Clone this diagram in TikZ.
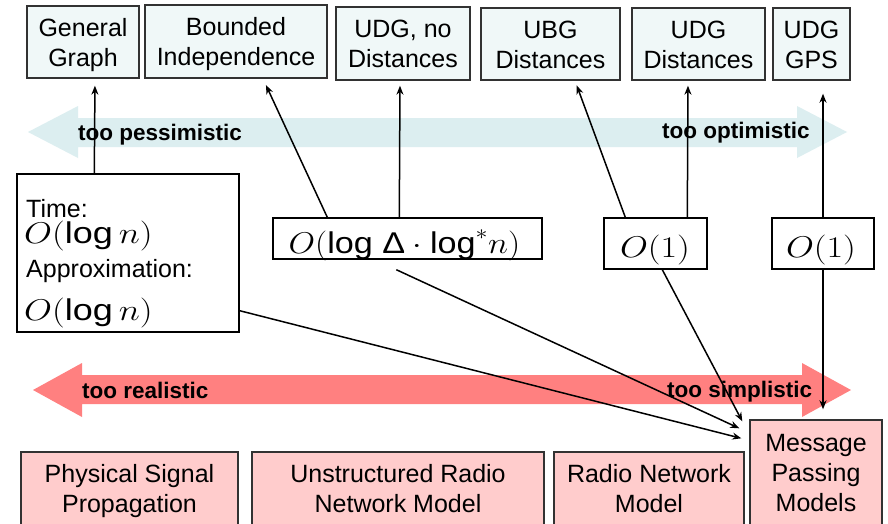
\RequirePackage{fix-cm}
\documentclass[tikz,border=0pt]{standalone}
\usepackage{fontspec}
\setmainfont{Liberation Sans}
\usetikzlibrary{calc,arrows.meta}
\definecolor{topfill}{RGB}{240,248,248}
\definecolor{botfill}{RGB}{255,204,204}
\definecolor{blueband}{RGB}{220,238,240}
\definecolor{redband}{RGB}{255,128,128}
\definecolor{edgecol}{RGB}{50,50,50}
\begin{document}
\begin{tikzpicture}[x=1pt,y=-1pt,
  topbox/.style={draw=edgecol,line width=1.4pt,fill=topfill,align=center,inner sep=0pt,text height=48pt,text depth=0pt,font=\fontsize{25}{30}\selectfont},
  botbox/.style={draw=edgecol,line width=1.4pt,fill=botfill,align=center,inner sep=0pt,text height=48pt,text depth=0pt,font=\fontsize{25}{30}\selectfont},
  midbox/.style={draw=black,line width=1.4pt,fill=white,inner sep=0pt},
  bandlabel/.style={font=\bfseries\fontsize{22.5}{27}\selectfont,anchor=base west,inner sep=0pt},
  conn/.style={line width=1.5pt,-{Stealth[length=9pt,width=7pt]}},
  mtext/.style={font=\fontsize{30}{36}\selectfont,inner sep=0pt},
  ttext/.style={font=\fontsize{25}{30}\selectfont,anchor=base west,inner sep=0pt}
]
\useasboundingbox (0,0) rectangle (888,523);
\fill[white] (0,0) rectangle (888,523);

% bands
\fill[blueband] (28,132) -- (78,106) -- (78,118) -- (797,118) -- (797,106) -- (847,132) -- (797,158) -- (797,147) -- (78,147) -- (78,158) -- cycle;
\fill[redband] (33,390) -- (82,363) -- (82,375) -- (802,375) -- (802,363) -- (851,390) -- (802,417) -- (802,404) -- (82,404) -- (82,417) -- cycle;

\node[bandlabel] (pess) at (78,140) {too pessimistic};
\node[bandlabel] (opt) at (662,138) {too optimistic};
\node[bandlabel] (real) at (82,398) {too realistic};
\node[bandlabel] (simp) at (667,397) {too simplistic};

% top boxes
\node[topbox,minimum width=112pt,minimum height=72pt] (gg) at (83,42) {General\\Graph};
\node[topbox,minimum width=182pt,minimum height=73pt] (bi) at (236,41.5) {Bounded\\Independence};
\node[topbox,minimum width=134pt,minimum height=73pt] (udgn) at (403,43.5) {UDG, no\\Distances};
\node[topbox,minimum width=139pt,minimum height=72pt] (ubg) at (550.5,44) {UBG\\Distances};
\node[topbox,minimum width=133pt,minimum height=72pt] (udgd) at (698.5,44) {UDG\\Distances};
\node[topbox,minimum width=77pt,minimum height=72pt] (gps) at (811.5,44) {UDG\\GPS};

% bottom boxes
\node[botbox,minimum width=217pt,minimum height=73pt] (phys) at (129.5,488.5) {Physical Signal\\Propagation};
\node[botbox,minimum width=292pt,minimum height=73pt] (unst) at (398,488.5) {Unstructured Radio\\Network Model};
\node[botbox,minimum width=190pt,minimum height=73pt] (rnm) at (649,488.5) {Radio Network\\Model};
\node[botbox,text height=78pt,minimum width=132pt,minimum height=105pt] (mpm) at (816,472.5) {Message\\Passing\\Models};

% middle boxes
\node[midbox,minimum width=222pt,minimum height=158pt] (time) at (128,253) {};
\node[ttext] (t1) at (26,217) {Time:};
\node[mtext,anchor=base west] (t2) at (24,243) {\scalebox{1.2}[1]{$O(\mbox{log}\,n)$}};
\node[ttext] (t3) at (26,277) {Approximation:};
\node[mtext,anchor=base west] (t4) at (24,320) {\scalebox{1.2}[1]{$O(\mbox{log}\,n)$}};

\node[midbox,minimum width=269pt,minimum height=41pt] (logd) at (407.5,238.5) {};
\node[mtext,anchor=base] (logdt) at (404.5,253) {\scalebox{1.14}[1]{$O(\mbox{log Δ}\cdot\mbox{log}^*n)$}};

\node[midbox,minimum width=103pt,minimum height=51pt] (o1a) at (655.5,243.5) {};
\node[mtext,anchor=base] (o1at) at (655,257) {\scalebox{1.2}[1]{$O(1)$}};
\node[midbox,minimum width=102pt,minimum height=51pt] (o1b) at (823,243.5) {};
\node[mtext,anchor=base] (o1bt) at (821,257) {\scalebox{1.2}[1]{$O(1)$}};

% connectors
\draw[conn,shorten >=7pt] ($(time.north west)+(78,0)$) -- ($(gg.south)+(12,0)$);
\draw[conn,shorten >=7pt] ($(logd.north west)+(55,0)$) -- ($(bi.south)+(27,0)$);
\draw[conn,shorten >=5pt] ($(logd.north west)+(127,0)$) -- ($(udgn.south)+(-3,0)$);
\draw[conn,shorten >=5pt] ($(o1a.north west)+(22,0)$) -- ($(ubg.south)+(24.5,0)$);
\draw[conn,shorten >=5pt] ($(o1a.north west)+(84,0)$) -- ($(udgd.south)+(-10.5,0)$);
\draw[conn,shorten >=13pt] (o1b.north) -- ($(gps.south)+(11.5,0)$);
\draw[conn,shorten >=10pt] (o1b.south) -- ($(mpm.north)+(7,0)$);
\draw[conn] ($(o1a.south west)+(59,0)$) -- ($(mpm.north west)+(-7,2)$);
\draw[conn] ($(logd.south west)+(124,10)$) -- ($(mpm.north west)+(-10,9)$);
\draw[conn] ($(time.south east)+(0,-22)$) -- ($(mpm.north west)+(-8,19)$);
\end{tikzpicture}
\end{document}
